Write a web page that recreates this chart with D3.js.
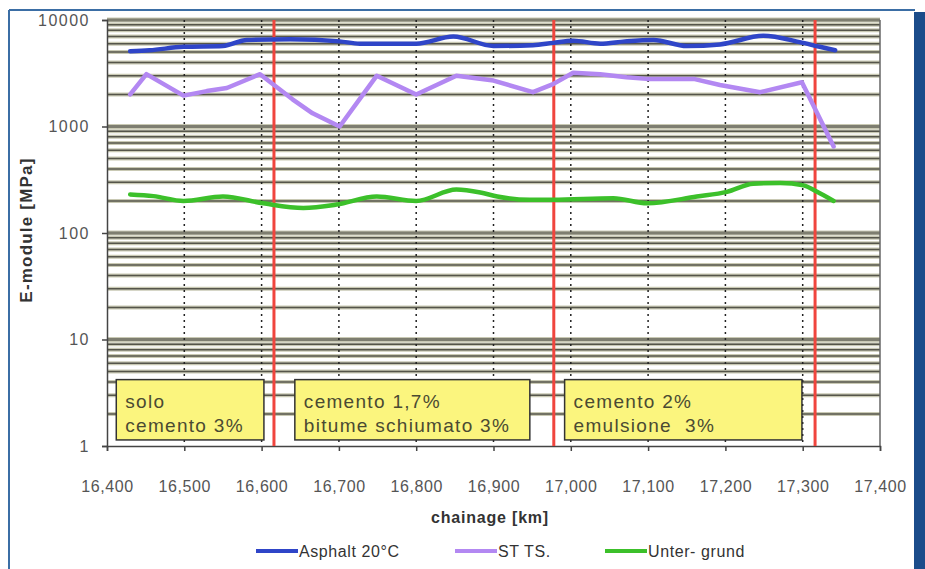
<!DOCTYPE html>
<html><head><meta charset="utf-8">
<script src="https://cdn.jsdelivr.net/npm/d3@7"></script>
<style>
html,body{margin:0;padding:0;background:#fff;}
svg{display:block;font-family:"Liberation Sans",Arial,sans-serif;}
</style></head>
<body>
<svg id="chart" width="925" height="569"></svg>
<script>
// ---- data ----
const asphaltKm  = [16430,16455,16499,16550,16581,16637,16701,16727,16800,16848,16900,16951,16977,17003,17038,17070,17107,17150,17193,17249,17296,17322,17342];
const asphaltVal = [5100,5200,5600,5700,6500,6600,6300,6000,6000,7000,5700,5800,6100,6400,6000,6300,6500,5700,5900,7100,6200,5600,5200];

const sttsKm  = [16430,16451,16499,16529,16555,16598,16640,16666,16701,16749,16800,16852,16900,16951,16977,17003,17038,17072,17098,17159,17193,17245,17299,17340];
const sttsVal = [2000,3100,1950,2150,2300,3100,1800,1330,1000,3000,2000,3000,2700,2100,2500,3200,3100,2900,2800,2800,2450,2100,2600,650];

const untKm  = [16430,16460,16499,16550,16602,16654,16697,16749,16800,16852,16883,16905,16947,16977,17055,17099,17163,17202,17236,17271,17301,17318,17340];
const untVal = [230,222,200,220,190,172,185,220,200,256,240,220,205,205,212,190,220,243,290,295,280,245,200];

const xTicks = [16400,16500,16600,16700,16800,16900,17000,17100,17200,17300,17400];
const yTicks = [1,10,100,1000,10000];
const sectionBreaks = [16616,16978,17316];
const boxKmStart = [16412,16643,16992];
const boxKmEnd   = [16603,16947,17299];
const boxLine1 = ["solo","cemento 1,7%","cemento 2%"];
const boxLine2 = ["cemento 3%","bitume schiumato 3%","emulsione  3%"];
const seriesNames = ["Asphalt 20°C","ST TS.","Unter- grund"];
const seriesColors = ["#2f45c8","#b388f2","#3cc02a"];

// ---- layout ----
const svg = d3.select("#chart");
const L=107, R=880, T=20, B=446;
const x = d3.scaleLinear().domain([16400,17400]).range([L,R]);
const y = d3.scaleLog().domain([1,10000]).range([B,T]);

// frame
svg.append("line").attr("x1",9).attr("x2",915).attr("y1",10).attr("y2",10).attr("stroke","#3b6ea5").attr("stroke-width",2);
svg.append("line").attr("x1",9).attr("x2",9).attr("y1",10).attr("y2",569).attr("stroke","#3b6ea5").attr("stroke-width",2);
svg.append("rect").attr("x",914).attr("y",12).attr("width",11).attr("height",557).attr("fill","#1b4c8a");

// horizontal gridlines (major + minor log)
const gridVals=[];
for(let d=1; d<10000; d*=10){ for(let m=1;m<10;m++){ gridVals.push(d*m);} }
gridVals.push(10000);
const hv = gridVals.filter(v=>v>1);
const g = svg.append("g");
g.selectAll("line.hb").data(hv).join("line")
  .attr("x1",L).attr("x2",R).attr("y1",d=>y(d)).attr("y2",d=>y(d))
  .attr("stroke","#c9c9b4").attr("stroke-width",d=>yTicks.includes(d)?5:4);
g.selectAll("line.h").data(hv).join("line")
  .attr("x1",L).attr("x2",R).attr("y1",d=>y(d)).attr("y2",d=>y(d))
  .attr("stroke",d=>yTicks.includes(d)?"#7e7e70":"#55554a")
  .attr("stroke-width",d=>yTicks.includes(d)?3:1.5);

// vertical dotted gridlines
g.selectAll("line.v").data(xTicks.slice(1,-1)).join("line")
  .attr("x1",d=>x(d)).attr("x2",d=>x(d)).attr("y1",T).attr("y2",B)
  .attr("stroke","#222").attr("stroke-width",1.5).attr("stroke-dasharray","2,4");

// right border of plot
svg.append("line").attr("x1",R).attr("x2",R).attr("y1",T).attr("y2",B).attr("stroke","#666").attr("stroke-width",1.5);

// axes
const narrow = "'Liberation Sans Narrow','Liberation Sans',sans-serif";
const yAxis = d3.axisLeft(y).tickValues(yTicks).tickFormat(d3.format("d")).tickSize(5).tickPadding(12);
const ya = svg.append("g").attr("transform",`translate(${L},0)`).call(yAxis);
ya.select(".domain").attr("stroke","#444").attr("stroke-width",1.5);
ya.selectAll(".tick line").attr("stroke","#444").attr("stroke-width",1.5);
ya.selectAll("text").attr("font-size",16).attr("fill","#555").attr("font-family",narrow).attr("letter-spacing",1.5);

const xAxis = d3.axisBottom(x).tickValues(xTicks).tickFormat(d3.format(",")).tickSize(5).tickPadding(30);
const xa = svg.append("g").attr("transform",`translate(0,${B})`).call(xAxis);
xa.select(".domain").attr("stroke","#444").attr("stroke-width",1.5);
xa.selectAll(".tick line").attr("stroke","#444").attr("stroke-width",1.5);
xa.selectAll("text").attr("font-size",16).attr("fill","#555").attr("font-family",narrow).attr("letter-spacing",0.6);

// annotation boxes
const boxes = boxKmStart.map((s,i)=>({s,e:boxKmEnd[i],l1:boxLine1[i],l2:boxLine2[i]}));
const bg = svg.append("g");
bg.selectAll("rect").data(boxes).join("rect")
  .attr("x",d=>x(d.s)).attr("width",d=>x(d.e)-x(d.s))
  .attr("y",y(4.2)).attr("height",y(1.14)-y(4.2))
  .attr("fill","#fbf57e").attr("stroke","#333").attr("stroke-width",1.5);
bg.selectAll("text.l1").data(boxes).join("text")
  .attr("x",d=>x(d.s)+9).attr("y",y(4.2)+28).text(d=>d.l1)
  .attr("font-size",19).attr("letter-spacing",1.3).attr("fill","#4a4a32");
bg.selectAll("text.l2").data(boxes).join("text")
  .attr("x",d=>x(d.s)+9).attr("y",y(4.2)+52).text(d=>d.l2)
  .attr("font-size",19).attr("letter-spacing",1.3).attr("fill","#4a4a32").style("white-space","pre");

// red section lines
svg.selectAll("line.red").data(sectionBreaks).join("line")
  .attr("x1",d=>x(d)).attr("x2",d=>x(d)).attr("y1",T).attr("y2",B)
  .attr("stroke","#f0453e").attr("stroke-width",3);

// series
const series = [
  {km:asphaltKm,v:asphaltVal,curve:d3.curveMonotoneX},
  {km:sttsKm,v:sttsVal,curve:d3.curveLinear},
  {km:untKm,v:untVal,curve:d3.curveMonotoneX}
];
series.forEach((s,i)=>{
  const pts = s.km.map((k,j)=>[k,s.v[j]]);
  svg.append("path").datum(pts)
    .attr("fill","none").attr("stroke",seriesColors[i]).attr("stroke-width",4.5)
    .attr("stroke-linejoin","round").attr("stroke-linecap","round")
    .attr("d",d3.line().x(d=>x(d[0])).y(d=>y(d[1])).curve(s.curve));
});

// axis titles
svg.append("text").attr("x",490).attr("y",523).attr("text-anchor","middle")
  .attr("font-size",16).attr("letter-spacing",0.8).attr("font-weight","bold").attr("fill","#333").text("chainage [km]");
svg.append("text").attr("transform","translate(32,230) rotate(-90)").attr("text-anchor","middle")
  .attr("font-size",17).attr("letter-spacing",1.2).attr("font-weight","bold").attr("fill","#333").text("E-module [MPa]");

// legend
const legX = [256,455,605];
const lg = svg.append("g");
seriesNames.forEach((n,i)=>{
  lg.append("line").attr("x1",legX[i]).attr("x2",legX[i]+42).attr("y1",551).attr("y2",551)
    .attr("stroke",seriesColors[i]).attr("stroke-width",4);
  lg.append("text").attr("x",legX[i]+43).attr("y",557).attr("font-size",16).attr("letter-spacing",0.6).attr("fill","#333")
    .attr("font-family",narrow).text(n);
});
</script>
</body></html>
